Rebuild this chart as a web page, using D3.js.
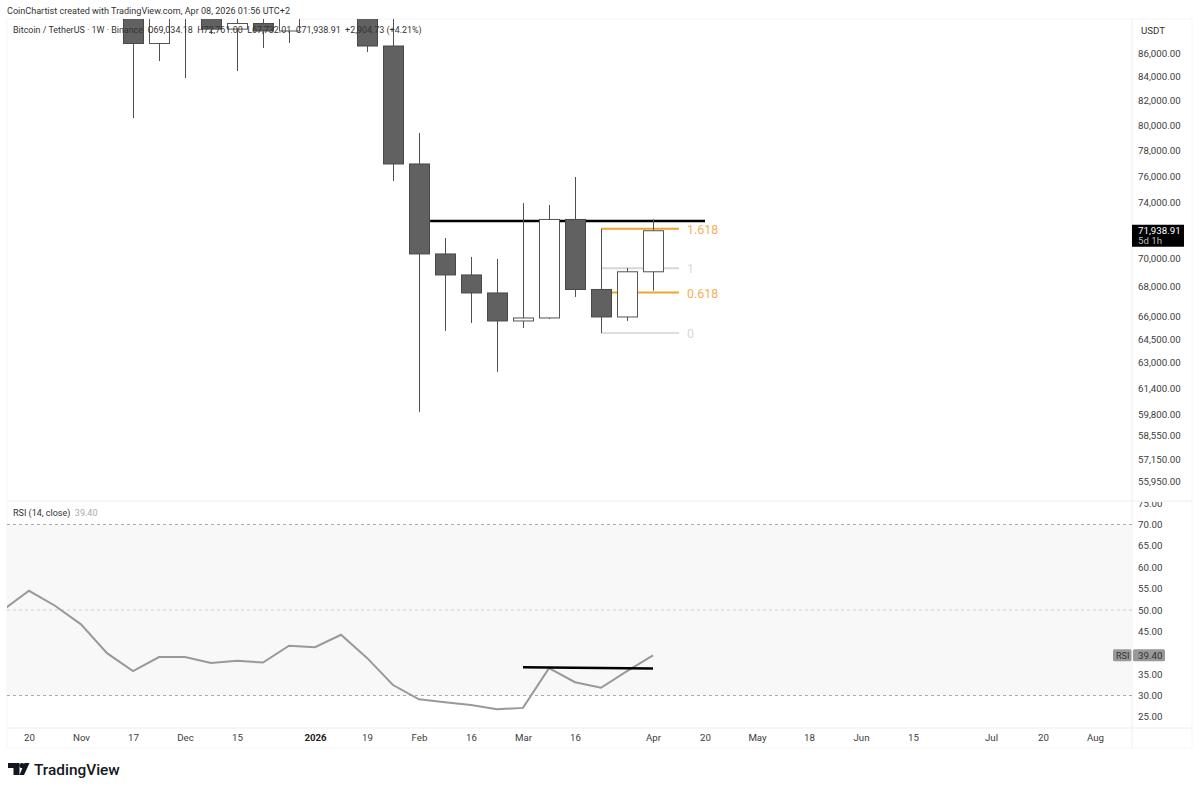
<!DOCTYPE html>
<html>
<head>
<meta charset="utf-8">
<script src="https://cdn.jsdelivr.net/npm/d3@7"></script>
<style>
  html, body { margin: 0; padding: 0; background: #fff; }
  svg { display: block; }
  text { font-family: Roboto, "Liberation Sans", sans-serif; }
  .domain { display: none; }
</style>
</head>
<body>
<div class="canvas"></div>
<script>
// weekly candles (the ones above the pane are estimates)
const weeks = ['2025-10-13','2025-10-20','2025-10-27','2025-11-03','2025-11-10','2025-11-17','2025-11-24',
    '2025-12-01','2025-12-08','2025-12-15','2025-12-22','2025-12-29','2026-01-05','2026-01-12','2026-01-19',
    '2026-01-26','2026-02-02','2026-02-09','2026-02-16','2026-02-23','2026-03-02','2026-03-09','2026-03-16',
    '2026-03-23','2026-03-30','2026-04-06'];
const opens = [115000,108600,114500,108800,104700,94000,86824,90400,90400,88089,88586,87921,91500,90500,93600,
    86606,76929,70281,68815,67581,65707,65905,72759,67819,65971,69034.18];
const highs = [115900,115400,116400,110000,107500,96600,93000,94000,92700,90500,90600,94800,94800,97900,96000,
    90600,79362,71419,70070,69928,73974,73826,75931,72068,69301,72761];
const lows = [103500,106100,106300,98900,93000,80566,85312,83868,87656,84459,86433,86868,89400,89300,86086,
    75627,59972,65050,65575,62428,65245,65839,67310,64919,65707,67732.01];
const closes = [108600,114500,108800,104700,94000,86824,90400,90400,88089,88586,87921,91500,90500,93600,86606,
    76929,70281,68815,67581,65707,65905,72759,67819,65971,69034.18,71938.91];
const rsiValues = [50.0,54.5,51.0,46.65,39.9,35.7,39.0,39.0,37.6,38.1,37.7,41.65,41.3,44.2,38.8,
    32.45,29.1,28.4,27.8,26.8,27.1,36.4,33.1,31.8,35.7,39.4];

const priceTicks = [86000,84000,82000,80000,78000,76000,74000,70000,68000,66000,64500,63000,61400,59800,58550,57150,55950];
const rsiTicks = [75,70,65,60,55,50,45,35,30,25];
const dateTicks = [['2025-10-20','20'],['2025-11-03','Nov'],['2025-11-17','17'],['2025-12-01','Dec'],['2025-12-15','15'],
    ['2026-01-05','2026'],['2026-01-19','19'],['2026-02-02','Feb'],['2026-02-16','16'],['2026-03-02','Mar'],['2026-03-16','16'],
    ['2026-04-06','Apr'],['2026-04-20','20'],['2026-05-04','May'],['2026-05-18','18'],['2026-06-01','Jun'],['2026-06-15','15'],
    ['2026-07-06','Jul'],['2026-07-20','20'],['2026-08-03','Aug']];

// drawings
const fibLevels = ['1.618','1','0.618','0'];
const fibPrices = [72084,69280,67610,64919];
const fibColors = ['#f2a32c','#d6d6d6','#f2a32c','#dedede'];
const fibDates = ['2026-03-23','2026-04-13'];
const resistanceDates = ['2026-02-05','2026-04-20'];
const resistancePrice = [72650,72650];
const rsiTrendDates = ['2026-03-02','2026-04-06'];
const rsiTrendValues = [36.6,36.3];

const pane = { left: 7, right: 1132, top: 19, split: 501, bottom: 728, foot: 748 };
const day = d => new Date(d + 'T00:00:00Z');

const x = d3.scaleUtc().domain([day('2025-10-20'), day('2026-04-06')]).range([29, 653]);
const y = d3.scaleLog().domain([55950, 86000]).range([481, 53]);
const yRsi = d3.scaleLinear().domain([30, 70]).range([695.5, 524.5]);

const svg = d3.select('.canvas').append('svg')
    .attr('width', 1199)
    .attr('height', 790);

const defs = svg.append('defs');
defs.append('clipPath').attr('id', 'clip-price').append('rect')
    .attr('x', pane.left).attr('y', pane.top)
    .attr('width', pane.right - pane.left).attr('height', pane.split - pane.top);
defs.append('clipPath').attr('id', 'clip-rsi').append('rect')
    .attr('x', pane.left).attr('y', pane.split + 1)
    .attr('width', pane.right - pane.left).attr('height', pane.bottom - pane.split - 1);
defs.append('clipPath').attr('id', 'clip-rsi-axis').append('rect')
    .attr('x', pane.right).attr('y', pane.split + 1)
    .attr('width', 60).attr('height', pane.bottom - pane.split - 1);

// frame
const frame = svg.append('g').attr('stroke', '#eeeeee').attr('fill', 'none');
frame.append('rect').attr('x', pane.left).attr('y', pane.top)
    .attr('width', 1192 - pane.left).attr('height', pane.foot - pane.top).attr('stroke', '#f6f6f6');
frame.append('line').attr('x1', pane.left).attr('x2', 1192).attr('y1', pane.split).attr('y2', pane.split);
frame.append('line').attr('x1', pane.left).attr('x2', 1192).attr('y1', pane.bottom).attr('y2', pane.bottom);
frame.append('line').attr('x1', pane.right).attr('x2', pane.right).attr('y1', pane.top).attr('y2', pane.foot);

// price pane
const price = svg.append('g').attr('clip-path', 'url(#clip-price)');

fibLevels.forEach((level, i) => {
    price.append('line')
        .attr('x1', x(day(fibDates[0]))).attr('x2', x(day(fibDates[1])))
        .attr('y1', y(fibPrices[i])).attr('y2', y(fibPrices[i]))
        .attr('stroke', fibColors[i]).attr('stroke-width', 2);
    price.append('text')
        .attr('x', x(day(fibDates[1])) + 8).attr('y', y(fibPrices[i]) + 5)
        .attr('font-size', 12.4).attr('fill', fibColors[i] === '#f2a32c' ? '#f4b054' : '#d9d9d9')
        .text(level);
});

price.append('line')
    .attr('x1', x(day(resistanceDates[0]))).attr('x2', x(day(resistanceDates[1])))
    .attr('y1', y(resistancePrice[0])).attr('y2', y(resistancePrice[1]))
    .attr('stroke', '#000').attr('stroke-width', 2.5);

const candle = price.selectAll('g.candle')
    .data(weeks.map((w, i) => ({ date: day(w), o: opens[i], h: highs[i], l: lows[i], c: closes[i] })))
    .enter().append('g').attr('class', 'candle');

candle.append('line')
    .attr('x1', d => x(d.date) + 0.5).attr('x2', d => x(d.date) + 0.5)
    .attr('y1', d => y(d.h)).attr('y2', d => y(d.l))
    .attr('stroke', '#505050');

candle.append('rect')
    .attr('x', d => x(d.date) - 9.5)
    .attr('width', 20)
    .attr('y', d => y(Math.max(d.o, d.c)))
    .attr('height', d => Math.abs(y(d.o) - y(d.c)))
    .attr('fill', d => d.c >= d.o ? '#fff' : '#616161')
    .attr('stroke', d => d.c >= d.o ? '#555' : '#484848');

// rsi pane
const rsi = svg.append('g').attr('clip-path', 'url(#clip-rsi)');

rsi.append('rect')
    .attr('x', pane.left).attr('width', pane.right - pane.left)
    .attr('y', yRsi(70)).attr('height', yRsi(30) - yRsi(70))
    .attr('fill', '#f8f8f8');

[70, 50, 30].forEach(v => {
    rsi.append('line')
        .attr('x1', pane.left).attr('x2', pane.right)
        .attr('y1', yRsi(v)).attr('y2', yRsi(v))
        .attr('stroke', v === 50 ? '#cfcfcf' : '#aaaaaa')
        .attr('stroke-dasharray', '3 3');
});

const rsiLine = d3.line()
    .x((d, i) => x(day(weeks[i])))
    .y(d => yRsi(d));

rsi.append('path')
    .attr('d', rsiLine(rsiValues))
    .attr('fill', 'none')
    .attr('stroke', '#999')
    .attr('stroke-width', 2);

rsi.append('line')
    .attr('x1', x(day(rsiTrendDates[0]))).attr('x2', x(day(rsiTrendDates[1])))
    .attr('y1', yRsi(rsiTrendValues[0])).attr('y2', yRsi(rsiTrendValues[1]))
    .attr('stroke', '#000').attr('stroke-width', 2.5);

// axes
const styleAxis = g => {
    g.selectAll('text').attr('fill', '#3c3c3c').attr('font-size', 9.7).attr('font-family', 'Roboto, "Liberation Sans", sans-serif');
    g.selectAll('line').remove();
};

svg.append('g')
    .attr('transform', `translate(${pane.right}, 0)`)
    .call(d3.axisRight(y).tickValues(priceTicks).tickSize(0).tickPadding(6).tickFormat(d3.format(',.2f')))
    .call(styleAxis);

svg.append('g')
    .attr('clip-path', 'url(#clip-rsi-axis)')
    .append('g')
    .attr('transform', `translate(${pane.right}, 0)`)
    .call(d3.axisRight(yRsi).tickValues(rsiTicks).tickSize(0).tickPadding(6).tickFormat(d3.format('.2f')))
    .call(styleAxis);

const dateLabels = new Map(dateTicks.map(d => [+day(d[0]), d[1]]));
svg.append('g')
    .attr('transform', `translate(0, ${pane.bottom})`)
    .call(d3.axisBottom(x).tickValues(dateTicks.map(d => day(d[0]))).tickSize(0).tickPadding(6)
        .tickFormat(d => dateLabels.get(+d)))
    .call(styleAxis)
    .selectAll('text')
    .attr('font-weight', d => dateLabels.get(+d) === '2026' ? 700 : 400)
    .attr('fill', d => dateLabels.get(+d) === '2026' ? '#222' : '#3c3c3c');

// axis header and last value tags
svg.append('text').attr('x', 1141).attr('y', 33.5).attr('font-size', 9.7).attr('fill', '#333').text('USDT');

const lastClose = closes[closes.length - 1];
svg.append('rect').attr('x', pane.right).attr('y', y(lastClose) - 6).attr('width', 52).attr('height', 22).attr('fill', '#000');
svg.append('text').attr('x', 1138).attr('y', y(lastClose) + 3).attr('font-size', 9.7).attr('fill', '#fff').text(d3.format(',.2f')(lastClose));
svg.append('text').attr('x', 1138).attr('y', y(lastClose) + 13).attr('font-size', 9.7).attr('fill', '#bbb').text('5d 1h');

const lastRsi = rsiValues[rsiValues.length - 1];
svg.append('rect').attr('x', 1113).attr('y', yRsi(lastRsi) - 6).attr('width', 18.5).attr('height', 12).attr('rx', 1.5).attr('fill', '#999');
svg.append('rect').attr('x', 1133).attr('y', yRsi(lastRsi) - 6).attr('width', 32).attr('height', 12).attr('rx', 1.5).attr('fill', '#999');
svg.append('text').attr('x', 1116).attr('y', yRsi(lastRsi) + 3.5).attr('font-size', 9).attr('fill', '#333').text('RSI');
svg.append('text').attr('x', 1138).attr('y', yRsi(lastRsi) + 3.5).attr('font-size', 9.7).attr('fill', '#333').text(lastRsi.toFixed(2));

// titles
svg.append('text').attr('x', 7).attr('y', 14).attr('font-size', 9.07).attr('fill', '#333')
    .text('CoinChartist created with TradingView.com, Apr 08, 2026 01:56 UTC+2');

svg.append('text').attr('x', 13).attr('y', 33.3).attr('font-size', 8.93).attr('fill', '#333')
    .attr('xml:space', 'preserve')
    .text('Bitcoin / TetherUS · 1W · Binance  O69,034.18  H72,761.00  L67,732.01  C71,938.91  +2,904.73 (+4.21%)');

const rsiTitle = svg.append('text').attr('x', 13).attr('y', 516.3).attr('font-size', 9).attr('fill', '#333');
rsiTitle.append('tspan').text('RSI (14, close)');
rsiTitle.append('tspan').attr('dx', 4.5).attr('fill', '#aaa').text('39.40');

// logo
const logo = svg.append('g').attr('transform', 'translate(8, 763)').attr('fill', '#131722');
logo.append('path').attr('d', 'M0 0H11.5V12H5.5V5H0Z');
logo.append('circle').attr('cx', 14).attr('cy', 2.6).attr('r', 2.6);
logo.append('path').attr('d', 'M16.5 0H21.5L16 12H11.5Z');
svg.append('text').attr('x', 34).attr('y', 774.5).attr('font-size', 15.4).attr('font-weight', 500).attr('fill', '#131722')
    .text('TradingView');
</script>
</body>
</html>
